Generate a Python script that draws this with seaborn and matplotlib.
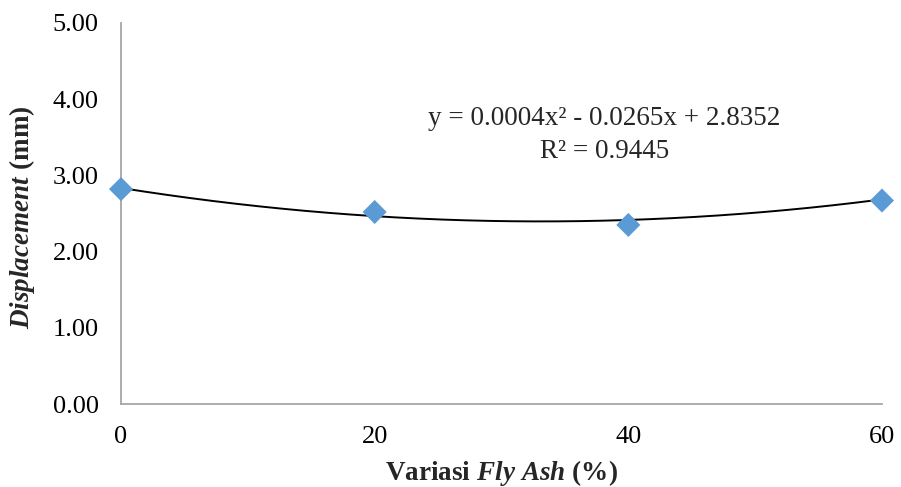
import numpy as np
import pandas as pd
import matplotlib
matplotlib.use("Agg")
import matplotlib.pyplot as plt
import seaborn as sns

fly_ash = [0, 20, 40, 60]
displacement = [2.82, 2.52, 2.35, 2.67]
trend_coef = [0.0004, -0.0265, 2.8352]
equation = "y = 0.0004x² - 0.0265x + 2.8352\nR² = 0.9445"
x_ticks = [0, 20, 40, 60]
y_ticks = [0.0, 1.0, 2.0, 3.0, 4.0, 5.0]

sns.set_style("white")
plt.rcParams["font.family"] = ["Liberation Serif", "DejaVu Serif"]
plt.rcParams["mathtext.fontset"] = "custom"
plt.rcParams["mathtext.rm"] = "Liberation Serif"
plt.rcParams["mathtext.bf"] = "Liberation Serif:bold"
plt.rcParams["mathtext.it"] = "Liberation Serif:italic:bold"

df = pd.DataFrame({"x": fly_ash, "y": displacement})
xs = np.linspace(min(fly_ash), max(fly_ash), 200)
trend = pd.DataFrame({"x": xs, "y": np.polyval(trend_coef, xs)})

fig = plt.figure(figsize=(9.01, 4.87), dpi=100)
ax = fig.add_axes([0.1343, 0.1704, 0.8446, 0.7824])

sns.lineplot(data=trend, x="x", y="y", ax=ax, color="black", linewidth=1.4, zorder=2)
sns.scatterplot(data=df, x="x", y="y", ax=ax, marker="D", s=150, color="#5b9bd5",
                edgecolor="none", zorder=3, clip_on=False)

ax.set_xlim(0, 60)
ax.set_ylim(0, 5)
ax.set_xticks(x_ticks)
ax.set_xticklabels([str(t) for t in x_ticks])
ax.set_yticks(y_ticks)
ax.set_yticklabels([f"{t:.2f}" for t in y_ticks])

for side in ["top", "right"]:
    ax.spines[side].set_visible(False)
for side in ["left", "bottom"]:
    ax.spines[side].set_color("#a6a6a6")
    ax.spines[side].set_linewidth(1.3)

ax.tick_params(axis="both", which="major", length=6, width=1.3, color="#a6a6a6",
               labelsize=19, labelcolor="black", direction="out")
ax.tick_params(axis="x", pad=10)
ax.tick_params(axis="y", pad=10)

ax.set_xlabel(r"$\mathbf{Variasi}\ \mathit{Fly\ Ash}\ \mathbf{(\%)}$", fontsize=19.5)
ax.set_ylabel(r"$\mathit{Displacement}\ \mathbf{(mm)}$", fontsize=19.5)
ax.xaxis.set_label_coords(0.5, -0.142)
ax.yaxis.set_label_coords(-0.111, 0.49)

ax.text(0.635, 0.706, equation, transform=ax.transAxes, ha="center", va="center",
        fontsize=19.5, linespacing=1.4)

plt.savefig("out.png", dpi=100)
plt.close()
